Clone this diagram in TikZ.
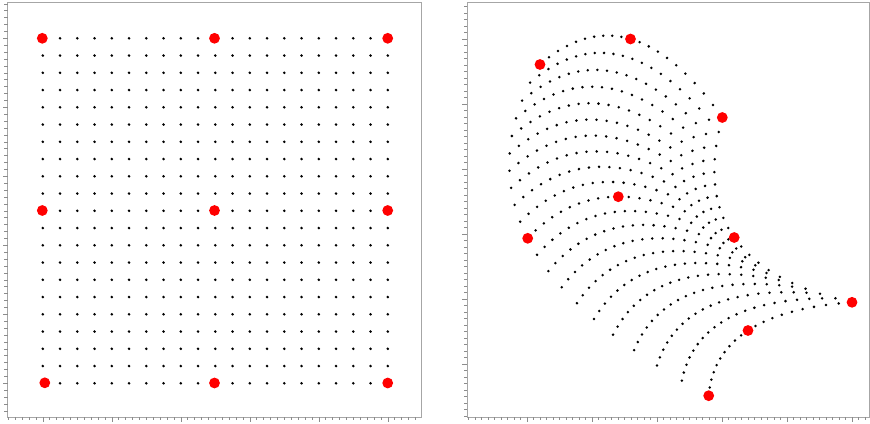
\documentclass[tikz,border=0pt]{standalone}
\definecolor{frame}{gray}{0.65}
\definecolor{tick}{gray}{0.55}
\definecolor{ctrl}{rgb}{1,0,0}
\tikzset{
  framebox/.style={draw=frame, line width=0.9pt},
  tickline/.style={draw=tick, line width=0.5pt},
  griddot/.style={fill=black},
  ctrldot/.style={fill=ctrl}
}
\begin{document}
\begin{tikzpicture}[x=1pt,y=-1pt]
\useasboundingbox (0,0) rectangle (870,423);
\fill[white] (0,0) rectangle (870,423);
% frames
\draw[framebox] (7.5,2.5) rectangle (421.5,417);
\draw[framebox] (467,2.5) rectangle (869.5,417);
% left panel ticks
\foreach \m in {-5,...,54}{
  \pgfmathsetmacro\tl{ifthenelse(mod(\m,10)==0,5,3.2)}
  \draw[tickline] (7.5,38.3+\m*6.9) -- ++(-\tl,0);
  \draw[tickline] (42.8+\m*6.9,417) -- ++(0,\tl);
}
% right panel ticks
\foreach \m in {-5,...,58}{
  \pgfmathsetmacro\tl{ifthenelse(mod(\m,10)==0,5,3.2)}
  \draw[tickline] (467,39+\m*6.5) -- ++(-\tl,0);
}
\foreach \m in {-49,...,12}{
  \pgfmathsetmacro\tl{ifthenelse(mod(\m,10)==0,5,3.2)}
  \draw[tickline] (787+\m*6.5,417) -- ++(0,\tl);
}
% left panel grid
\foreach \i in {0,...,20}{
  \foreach \j in {0,...,20}{
    \fill[griddot] (42.8+\i*17.25,38.3+\j*17.25) circle (1.4);
  }
}
% right panel warped grid (biquadratic interpolation)
\foreach \i in {0,...,20}{
  \pgfmathsetmacro\u{\i/20}
  \pgfmathsetmacro\ao{2*(\u-0.5)*(\u-1)}
  \pgfmathsetmacro\ai{-4*\u*(\u-1)}
  \pgfmathsetmacro\aii{2*\u*(\u-0.5)}
  \pgfmathsetmacro\xr{\ao*540+\ai*630.5+\aii*722.3}
  \pgfmathsetmacro\xs{\ao*527.7+\ai*618.3+\aii*734.2}
  \pgfmathsetmacro\xt{\ao*708.7+\ai*748+\aii*852}
  \pgfmathsetmacro\yr{\ao*64.5+\ai*39+\aii*117.5}
  \pgfmathsetmacro\ys{\ao*238.3+\ai*196.7+\aii*237.5}
  \pgfmathsetmacro\yt{\ao*395.7+\ai*330.5+\aii*302.3}
  \foreach \j in {0,...,20}{
    \pgfmathsetmacro\v{\j/20}
    \pgfmathsetmacro\bo{2*(\v-0.5)*(\v-1)}
    \pgfmathsetmacro\bi{-4*\v*(\v-1)}
    \pgfmathsetmacro\bii{2*\v*(\v-0.5)}
    \pgfmathsetmacro\px{\bo*\xr+\bi*\xs+\bii*\xt}
    \pgfmathsetmacro\py{\bo*\yr+\bi*\ys+\bii*\yt}
    \fill[griddot] (\px,\py) circle (1.4);
  }
}
% control points, left panel
\foreach \p in {(42.3,38.3),(214.5,38.3),(387.7,38.3),
                (42.3,210.5),(214.5,210.5),(387.7,210.5),
                (44.8,382.8),(214.5,383),(387.7,383)}{
  \fill[ctrldot] \p circle (5.4);
}
% control points, right panel
\foreach \p in {(540,64.5),(630.5,39),(722.3,117.5),
                (527.7,238.3),(618.3,196.7),(734.2,237.5),
                (708.7,395.7),(748,330.5),(852,302.3)}{
  \fill[ctrldot] \p circle (5.4);
}
\end{tikzpicture}
\end{document}
